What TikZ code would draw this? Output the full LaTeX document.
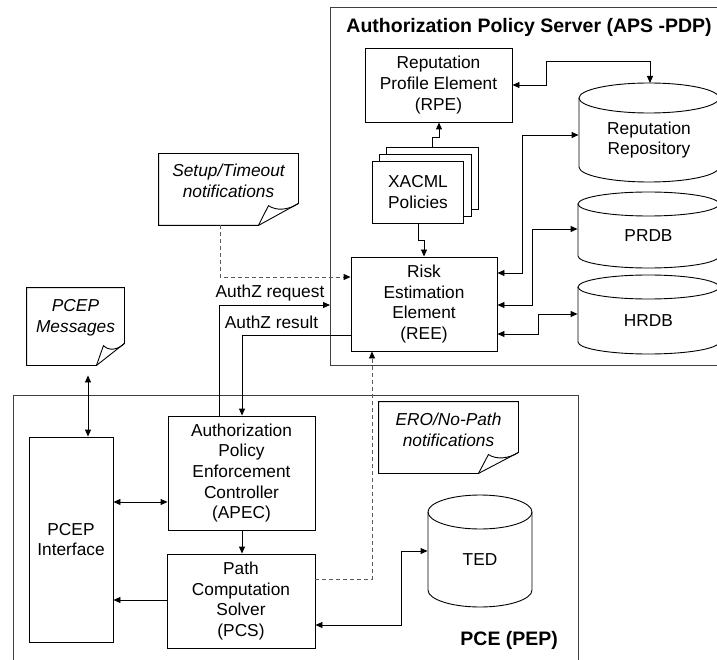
\documentclass[tikz,border=0pt]{standalone}
\usepackage{fontspec}
\setmainfont{Liberation Sans}
\usetikzlibrary{arrows.meta,calc}
\newcommand\fs{\fontsize{17.3}{20.6}\selectfont}
\newcommand\notepath[3]{%
  \draw (#1.north west) -- (#1.north east) -- ([yshift=#3pt]#1.south east)
     -- ([xshift=-#2pt]#1.south east) -- (#1.south west) -- cycle;
  \draw ([yshift=#3pt]#1.south east)
     .. controls ([xshift={-0.25*#2pt},yshift={0.7*#3pt}]#1.south east)
     and ([xshift={-0.55*#2pt},yshift={0.65*#3pt}]#1.south east)
     .. ([xshift={-0.75*#2pt},yshift={0.9*#3pt}]#1.south east)
     -- ([xshift=-#2pt]#1.south east);}
\begin{document}
\begin{tikzpicture}[x=1pt,y=-1pt,line width=0.9pt,
  box/.style={draw, align=center, font=\fs, inner sep=0pt},
  ghost/.style={align=center, font=\fs, inner sep=0pt},
  notebox/.style={inner sep=0pt},
  notetext/.style={align=center, font=\fs\itshape, inner sep=0pt},
  frame/.style={draw=black!75, line width=1.2pt, inner sep=0pt},
  tip/.style={-{Triangle[length=7pt,width=6pt]}},
  dtip/.style={{Triangle[length=7pt,width=6pt]}-{Triangle[length=7pt,width=6pt]}},
  dtipk/.style={-{Triangle[length=7pt,width=6pt,color=black]}},
  dashline/.style={draw=black!65, dash pattern=on 4pt off 3pt},
  title/.style={font=\fontsize{19.5}{22}\selectfont\bfseries, inner sep=0pt}]
\useasboundingbox (0,0) rectangle (717,660);
\clip (0,0) rectangle (717,660);
% frames
\node[frame, minimum width=400, minimum height=358, anchor=north west] (aps) at (330,7) {};
\node[frame, minimum width=565, minimum height=280, anchor=north west] (pce) at (13,395) {};
\node[title, anchor=base west] (apst) at (346,33) {Authorization Policy Server (APS -PDP)};
\node[title, anchor=base west] (pcet) at (460,645) {PCE (PEP)};
% boxes
\node[box, minimum width=147, minimum height=74] (rpe) at (438.5,85) {Reputation\\Profile Element\\(RPE)};
\node[box, fill=white, minimum width=92, minimum height=62] (xb2) at (432,178) {};
\node[box, fill=white, minimum width=92, minimum height=62] (xb1) at (425,185) {};
\node[box, fill=white, minimum width=91, minimum height=62] (xacml) at (418,192) {XACML\\Policies};
\node[box, minimum width=146, minimum height=94] (ree) at (424,304) {Risk\\Estimation\\Element\\(REE)};
\node[box, minimum width=147, minimum height=114] (apec) at (241.5,473) {Authorization\\Policy\\Enforcement\\Controller\\(APEC)};
\node[box, minimum width=148, minimum height=94] (pcs) at (241,601) {Path\\Computation\\Solver\\(PCS)};
\node[box, minimum width=84, minimum height=205] (pcepif) at (71,539.5) {PCEP\\Interface};
% cylinders
\draw (579,98) -- (579,167) arc[start angle=180,end angle=0,x radius=70,y radius=15] -- (719,98);
\draw (649,98) ellipse[x radius=70,y radius=15];
\node[ghost, minimum width=140, minimum height=84] (repo) at (649,140) {Reputation\\Repository};
\draw (578,204) -- (578,256) arc[start angle=180,end angle=0,x radius=70.5,y radius=12] -- (719,204);
\draw (648.5,204) ellipse[x radius=70.5,y radius=12];
\node[ghost, minimum width=141, minimum height=64] (prdb) at (648.5,236) {PRDB};
\draw (578,287) -- (578,342) arc[start angle=180,end angle=0,x radius=70.5,y radius=12] -- (719,287);
\draw (648.5,287) ellipse[x radius=70.5,y radius=12];
\node[ghost, minimum width=141, minimum height=67] (hrdb) at (648.5,320.5) {HRDB};
\draw (428,512) -- (428,590) arc[start angle=180,end angle=0,x radius=52,y radius=17] -- (532,512);
\draw (480,512) ellipse[x radius=52,y radius=17];
\node[ghost, minimum width=104, minimum height=95] (ted) at (480,559.5) {TED};
% notes
\node[notebox, minimum width=139, minimum height=71] (setup) at (228.5,189.5) {};
\notepath{setup}{40}{22}
\node[notetext] (setupT) at (228.5,181) {Setup/Timeout\\notifications};
\node[notebox, minimum width=97, minimum height=77] (pcepmsg) at (75.5,326.5) {};
\notepath{pcepmsg}{28}{22}
\node[notetext] (pcepmsgT) at (75.5,318) {PCEP\\Messages};
\node[notebox, minimum width=139, minimum height=71] (ero) at (448.5,437.5) {};
\notepath{ero}{40}{21}
\node[notetext] (eroT) at (448.5,430) {ERO/No-Path\\notifications};
% labels
\node[ghost, anchor=base] (reqL) at (270,298) {AuthZ request};
\node[ghost, anchor=base] (resL) at (271.5,328) {AuthZ result};
% connectors
\coordinate (repotop) at (650,83);
\draw[dtip] (rpe.east) -- (546,85) |- (650,61) -- (repotop);
\draw[dtip] (ree.east |- 0,273) -- (522,273) |- (repo.west |- 0,135);
\draw[dtip] (ree.east |- 0,305) -- (532,305) |- (prdb.west |- 0,229);
\draw[dtip] (ree.east |- 0,334) -- (538,334) |- (hrdb.west |- 0,314);
\draw[tip] (xb2.north) -- (432,137) -| (rpe.south -| 439,0);
\draw[tip] (xacml.south) -- (418,240) -| (ree.north);
\draw[dashline, dtipk] (setup.south -| 220,0) |- (ree.west |- 0,277);
\draw[tip] (apec.north -| 219,0) |- (aps.west |- 0,305);
\draw[tip] (ree.west |- 0,335) -| (apec.north -| 242,0);
\draw[dtip, shorten <=10pt] (pcepmsg.south -| 88,0) -- (pcepif.north -| 88,0);
\draw[dtip] (pcepif.east |- 0,502) -- (apec.west |- 0,502);
\draw[tip] (apec.south -| 242,0) -- (pcs.north -| 242,0);
\draw[tip] (pcs.west |- 0,600) -- (pcepif.east |- 0,600);
\draw[dtip] (pcs.east |- 0,625) -| (401,551) -- (ted.west |- 0,551);
\draw[dashline, dtipk] (pcs.east |- 0,579) -| (ree.south -| 372,0);
\end{tikzpicture}
\end{document}
